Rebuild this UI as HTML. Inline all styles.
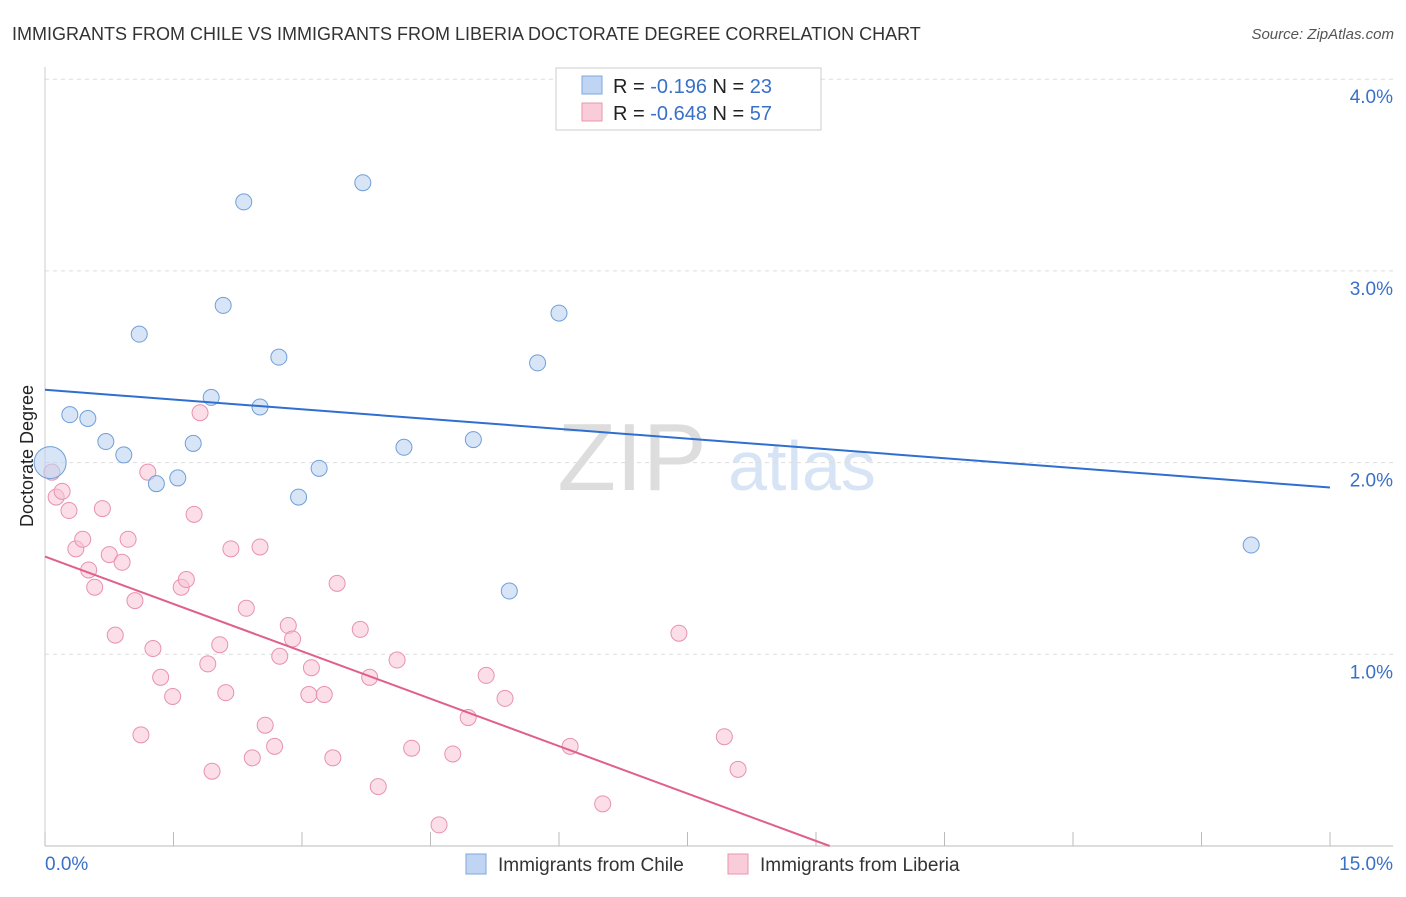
<!DOCTYPE html>
<html><head><meta charset="utf-8">
<style>
body{margin:0;background:#fff;font-family:"Liberation Sans",sans-serif;}
svg text{font-family:"Liberation Sans",sans-serif;}
</style></head>
<body>
<svg id="chart" width="1406" height="892" viewBox="0 0 1406 892" xmlns="http://www.w3.org/2000/svg">
<text x="12" y="40" font-size="18" fill="#333">IMMIGRANTS FROM CHILE VS IMMIGRANTS FROM LIBERIA DOCTORATE DEGREE CORRELATION CHART</text>
<text x="1394" y="39" font-size="15" fill="#555" font-style="italic" text-anchor="end">Source: ZipAtlas.com</text>
<text x="33" y="456" font-size="18" fill="#222" text-anchor="middle" transform="rotate(-90 33 456)">Doctorate Degree</text>
<g>
<text x="632" y="490" font-size="96" fill="#ddd" font-family="Liberation Serif" text-anchor="middle">ZIP</text>
<text x="802" y="490" font-size="70" fill="#d6e4f5" text-anchor="middle">atlas</text>
</g>
<g id="grid"></g>
<g id="axes"></g>
<g id="marks"></g>
<g>
<rect x="556" y="68" width="265" height="62" fill="#fff" stroke="#ccc"/>
<rect x="582" y="76" width="20" height="18" fill="#c0d5f3" stroke="#7ea7dc"/>
<text x="613" y="93" font-size="20" fill="#222">R = <tspan fill="#3a70c8">-0.196</tspan>   N = <tspan fill="#3a70c8">23</tspan></text>
<rect x="582" y="103" width="20" height="18" fill="#f9ccd9" stroke="#e994b0"/>
<text x="613" y="120" font-size="20" fill="#222">R = <tspan fill="#3a70c8">-0.648</tspan>   N = <tspan fill="#3a70c8">57</tspan></text>
</g>
<g>
<rect x="466" y="854" width="20" height="20" fill="#c0d5f3" stroke="#7ea7dc"/>
<text x="498" y="871" font-size="19" fill="#333">Immigrants from Chile</text>
<rect x="728" y="854" width="20" height="20" fill="#f9ccd9" stroke="#e994b0"/>
<text x="760" y="871" font-size="19" fill="#333">Immigrants from Liberia</text>
</g>
</svg>
<script>
const chileX=[0.06,0.29,0.50,0.71,0.92,1.10,1.30,1.55,1.73,1.94,2.08,2.32,2.51,2.73,2.96,3.20,3.71,4.19,5.00,5.42,5.75,6.00,14.08];
const chileY=[2.00,2.25,2.23,2.11,2.04,2.67,1.89,1.92,2.10,2.34,2.82,3.36,2.29,2.55,1.82,1.97,3.46,2.08,2.12,1.33,2.52,2.78,1.57];
const liberiaX=[0.08,0.13,0.20,0.28,0.36,0.44,0.51,0.58,0.67,0.75,0.82,0.90,0.97,1.05,1.12,1.20,1.26,1.35,1.49,1.59,1.65,1.74,1.81,1.90,1.95,2.04,2.11,2.17,2.35,2.42,2.51,2.57,2.68,2.74,2.84,2.89,3.08,3.11,3.26,3.36,3.41,3.68,3.79,3.89,4.11,4.28,4.60,4.76,4.94,5.15,5.37,6.13,6.51,7.40,7.93,8.09];
const liberiaY=[1.95,1.82,1.85,1.75,1.55,1.60,1.44,1.35,1.76,1.52,1.10,1.48,1.60,1.28,0.58,1.95,1.03,0.88,0.78,1.35,1.39,1.73,2.26,0.95,0.39,1.05,0.80,1.55,1.24,0.46,1.56,0.63,0.52,0.99,1.15,1.08,0.79,0.93,0.79,0.46,1.37,1.13,0.88,0.31,0.97,0.51,0.11,0.48,0.67,0.89,0.77,0.52,0.22,1.11,0.57,0.40];
const chileTrend=[[0,2.38],[15,1.87]];
const liberiaTrend=[[0,1.51],[9.16,0]];
const yTicks=[1,2,3,4];
const yTickLabels=["1.0%","2.0%","3.0%","4.0%"];
const xTicks=[0,1.5,3,4.5,6,7.5,9,10.5,12,13.5,15];

const NS="http://www.w3.org/2000/svg";
const sx=v=>45+v*(1285/15);
const sy=v=>846-v*191.7;
function mk(tag,attrs,parent){const e=document.createElementNS(NS,tag);for(const k in attrs)e.setAttribute(k,attrs[k]);parent.appendChild(e);return e;}
const grid=document.getElementById('grid'),axes=document.getElementById('axes'),marks=document.getElementById('marks');
yTicks.forEach((t,i)=>{
 const l=mk('line',{x1:45,x2:1393,y1:sy(t),y2:sy(t),stroke:'#ddd','stroke-dasharray':'4,4'},grid);
 
 
 const tx=mk('text',{x:1393,y:sy(t)+24,'font-size':19,fill:'#3a70c8','text-anchor':'end'},axes);
 tx.textContent=yTickLabels[i];
 
 
});
const ax=mk('line',{x1:45,x2:1393,y1:846,y2:846,stroke:'#bbb'},axes);


const ay=mk('line',{x1:45,x2:45,y1:67,y2:846,stroke:'#ccc'},axes);


xTicks.forEach(t=>{
 const l=mk('line',{x1:sx(t),x2:sx(t),y1:832,y2:846,stroke:'#bbb'},axes);
 
 
});
const x0=mk('text',{x:45,y:870,'font-size':19,fill:'#3a70c8'},axes);x0.textContent='0.0%';


const x1=mk('text',{x:1393,y:870,'font-size':19,fill:'#3a70c8','text-anchor':'end'},axes);x1.textContent='15.0%';


liberiaX.forEach((v,i)=>{
 const c=mk('circle',{cx:sx(v),cy:sy(liberiaY[i]),r:8,fill:'#f7c3d3','fill-opacity':0.55,stroke:'#e892ae','stroke-width':1},marks);
 
 
});
chileX.forEach((v,i)=>{
 const c=mk('circle',{cx:sx(v),cy:sy(chileY[i]),r:i===0?16:8,fill:'#bcd3f2','fill-opacity':0.6,stroke:'#6f9fd8','stroke-width':1},marks);
 
 
});
const t1=mk('line',{x1:sx(chileTrend[0][0]),y1:sy(chileTrend[0][1]),x2:sx(chileTrend[1][0]),y2:sy(chileTrend[1][1]),stroke:'#2f6fd0','stroke-width':2},marks);


const t2=mk('line',{x1:sx(liberiaTrend[0][0]),y1:sy(liberiaTrend[0][1]),x2:sx(liberiaTrend[1][0]),y2:sy(liberiaTrend[1][1]),stroke:'#e0608c','stroke-width':2},marks);


</script>
</body></html>
